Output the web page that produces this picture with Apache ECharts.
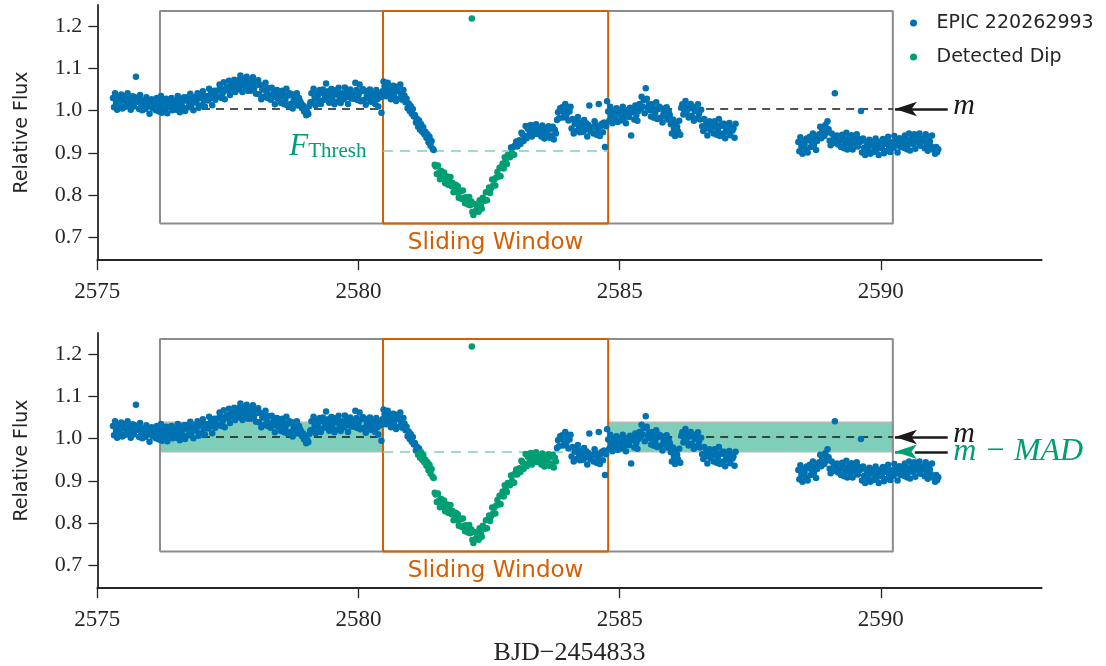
<!DOCTYPE html>
<html>
<head>
<meta charset="utf-8">
<title>EPIC 220262993 dip detection</title>
<script src="https://cdn.jsdelivr.net/npm/echarts@6/dist/echarts.min.js"></script>
<style>
  html, body { margin: 0; padding: 0; background: #ffffff; }
  #chart { width: 1106px; height: 666px; }
</style>
</head>
<body>
<div id="chart"></div>
<script>
// K2 light curve of EPIC 220262993: [BJD - 2454833, relative flux]
const lightCurveA = [
  [2575.30,1.030],[2575.32,1.008],[2575.34,1.041],[2575.36,1.019],[2575.38,1.002],[2575.40,1.033],[2575.42,1.024],[2575.44,1.013],[2575.46,1.038],[2575.48,1.005],
  [2575.50,1.025],[2575.52,1.033],[2575.54,1.009],[2575.56,1.019],[2575.58,1.041],[2575.60,1.014],[2575.62,1.029],[2575.64,1.002],[2575.66,1.023],[2575.68,1.034],
  [2575.70,1.010],[2575.72,1.032],[2575.74,1.080],[2575.76,1.021],[2575.78,1.029],[2575.80,1.004],[2575.82,1.037],[2575.84,1.015],[2575.86,1.001],[2575.88,1.024],
  [2575.90,1.015],[2575.92,1.004],[2575.94,1.032],[2575.96,1.009],[2575.98,1.024],[2576.00,0.993],[2576.02,1.020],[2576.04,1.027],[2576.06,1.006],[2576.08,1.014],
  [2576.10,1.016],[2576.12,1.001],[2576.14,1.030],[2576.16,1.022],[2576.18,0.998],[2576.20,1.009],[2576.22,1.035],[2576.24,0.995],[2576.26,1.019],[2576.28,1.024],
  [2576.30,1.005],[2576.32,1.028],[2576.34,0.994],[2576.36,1.015],[2576.38,1.022],[2576.40,1.008],[2576.42,1.030],[2576.44,1.001],[2576.46,1.019],[2576.48,1.012],
  [2576.50,1.024],[2576.52,1.002],[2576.54,1.035],[2576.56,1.013],[2576.58,0.996],[2576.60,1.027],[2576.62,1.018],[2576.64,1.007],[2576.66,1.032],[2576.68,0.999],
  [2576.70,1.024],[2576.72,1.032],[2576.74,1.008],[2576.76,1.018],[2576.78,1.040],[2576.80,1.013],[2576.82,1.028],[2576.84,1.001],[2576.86,1.022],[2576.88,1.033],
  [2576.90,1.019],[2576.92,1.041],[2576.94,1.007],[2576.96,1.030],[2576.98,1.038],[2577.00,1.013],[2577.02,1.046],[2577.04,1.024],[2577.06,1.010],[2577.08,1.033],
  [2577.10,1.035],[2577.12,1.024],[2577.14,1.052],[2577.16,1.029],[2577.18,1.044],[2577.20,1.013],[2577.22,1.040],[2577.24,1.047],[2577.26,1.026],[2577.28,1.034],
  [2577.30,1.048],[2577.32,1.033],[2577.34,1.062],[2577.36,1.054],[2577.38,1.030],[2577.40,1.041],[2577.42,1.067],[2577.44,1.027],[2577.46,1.051],[2577.48,1.056],
  [2577.50,1.048],[2577.52,1.071],[2577.54,1.037],[2577.56,1.058],[2577.58,1.065],[2577.60,1.051],[2577.62,1.073],[2577.64,1.044],[2577.66,1.062],[2577.68,1.055],
  [2577.70,1.072],[2577.72,1.050],[2577.74,1.083],[2577.76,1.061],[2577.78,1.044],[2577.80,1.075],[2577.82,1.066],[2577.84,1.055],[2577.86,1.080],[2577.88,1.047],
  [2577.90,1.063],[2577.92,1.071],[2577.94,1.047],[2577.96,1.057],[2577.98,1.079],[2578.00,1.052],[2578.02,1.067],[2578.04,1.040],[2578.06,1.061],[2578.08,1.072],
  [2578.10,1.039],[2578.12,1.061],[2578.14,1.027],[2578.16,1.050],[2578.18,1.058],[2578.20,1.033],[2578.22,1.066],[2578.24,1.044],[2578.26,1.030],[2578.28,1.053],
  [2578.30,1.037],[2578.32,1.026],[2578.34,1.054],[2578.36,1.031],[2578.38,1.046],[2578.40,1.015],[2578.42,1.042],[2578.44,1.049],[2578.46,1.028],[2578.48,1.036],
  [2578.50,1.033],[2578.52,1.018],[2578.54,1.047],[2578.56,1.039],[2578.58,1.015],[2578.60,1.026],[2578.62,1.052],[2578.64,1.012],[2578.66,1.036],[2578.68,1.041],
  [2578.70,1.016],[2578.72,1.039],[2578.74,1.005],[2578.76,1.026],[2578.78,1.033],[2578.80,1.019],[2578.82,1.041],[2578.84,1.012],[2578.86,1.030],[2578.88,1.023],
  [2578.90,1.018],[2578.92,1.006],[2578.94,1.012],[2578.96,0.998],[2578.98,1.004],[2579.00,0.989],[2579.02,0.997],[2579.04,0.992],[2579.06,1.011],[2579.08,1.020],
  [2579.10,1.041],[2579.12,1.019],[2579.14,1.052],[2579.16,1.030],[2579.18,1.013],[2579.20,1.044],[2579.22,1.035],[2579.24,1.024],[2579.26,1.049],[2579.28,1.016],
  [2579.30,1.042],[2579.32,1.050],[2579.34,1.026],[2579.36,1.036],[2579.38,1.064],[2579.40,1.031],[2579.42,1.046],[2579.44,1.019],[2579.46,1.040],[2579.48,1.051],
  [2579.50,1.027],[2579.52,1.049],[2579.54,1.015],[2579.56,1.038],[2579.58,1.046],[2579.60,1.021],[2579.62,1.054],[2579.64,1.032],[2579.66,1.018],[2579.68,1.041],
  [2579.70,1.038],[2579.72,1.027],[2579.74,1.055],[2579.76,1.032],[2579.78,1.047],[2579.80,1.016],[2579.82,1.043],[2579.84,1.050],[2579.86,1.029],[2579.88,1.037],
  [2579.90,1.043],[2579.92,1.028],[2579.94,1.066],[2579.96,1.049],[2579.98,1.025],[2580.00,1.036],[2580.02,1.062],[2580.04,1.022],[2580.06,1.046],[2580.08,1.051],
  [2580.10,1.025],[2580.12,1.048],[2580.14,1.014],[2580.16,1.035],[2580.18,1.042],[2580.20,1.028],[2580.22,1.050],[2580.24,1.021],[2580.26,1.039],[2580.28,1.032],
  [2580.30,1.038],[2580.32,1.016],[2580.34,1.049],[2580.36,1.027],[2580.38,1.010],[2580.40,1.041],[2580.42,1.032],[2580.44,0.995],[2580.46,1.046]
];
const lightCurveB = [
  [2580.48,1.069],[2580.50,1.058],[2580.52,1.034],[2580.54,1.044],[2580.56,1.066],[2580.58,1.039],[2580.60,1.054],[2580.62,1.027],[2580.64,1.048],[2580.66,1.059],
  [2580.68,1.035],[2580.70,1.057],[2580.72,1.023],[2580.74,1.046],[2580.76,1.054],[2580.78,1.029],[2580.80,1.062],[2580.82,1.040],[2580.84,1.026],[2580.86,1.049],
  [2580.88,1.036],[2580.90,1.020],[2580.92,1.028],[2580.94,1.006],[2580.96,1.017],[2580.98,0.999],[2581.00,1.011],[2581.02,0.993],[2581.04,1.004],[2581.06,0.986],
  [2581.08,0.990],[2581.10,0.972],[2581.12,0.981],[2581.14,0.962],[2581.16,0.977],[2581.18,0.955],[2581.20,0.968],[2581.22,0.950],[2581.24,0.961],[2581.26,0.944],
  [2581.28,0.950],[2581.30,0.936],[2581.32,0.944],[2581.34,0.925],[2581.36,0.938],[2581.38,0.917],[2581.40,0.928],[2581.42,0.910],[2581.44,0.907],[2581.46,0.872],
  [2581.48,0.868],[2581.50,0.850],[2581.52,0.870],[2581.54,0.853],[2581.56,0.838],[2581.58,0.858],[2581.60,0.848],[2581.62,0.839],[2581.64,0.854],[2581.66,0.828],
  [2581.68,0.842],[2581.70,0.844],[2581.72,0.825],[2581.74,0.829],[2581.76,0.843],[2581.78,0.821],[2581.80,0.829],[2581.82,0.807],[2581.84,0.820],[2581.86,0.825],
  [2581.88,0.807],[2581.90,0.821],[2581.92,0.794],[2581.94,0.808],[2581.96,0.810],[2581.98,0.791],[2582.00,0.811],[2582.02,0.794],[2582.04,0.781],[2582.06,0.795],
  [2582.08,0.789],[2582.10,0.778],[2582.12,0.796],[2582.14,0.776],[2582.16,0.785],[2582.18,0.760],[2582.20,0.753],[2582.22,0.779],[2582.24,0.762],[2582.26,0.765],
  [2582.28,0.774],[2582.30,0.761],[2582.32,0.788],[2582.34,0.776],[2582.36,0.768],[2582.38,0.794],[2582.40,0.790],[2582.42,0.787],[2582.44,0.807],[2582.46,0.788],
  [2582.48,0.808],[2582.50,0.818],[2582.52,0.805],[2582.54,0.817],[2582.56,0.837],[2582.58,0.823],[2582.60,0.837],[2582.62,0.823],[2582.64,0.842],[2582.66,0.855],
  [2582.68,0.844],[2582.70,0.865],[2582.72,0.845],[2582.74,0.866],[2582.76,0.875],[2582.78,0.863],[2582.80,0.890],[2582.82,0.880],[2582.84,0.874],[2582.86,0.895],
  [2582.88,0.894],[2582.90,0.890],[2582.92,0.913],[2582.94,0.900],[2582.96,0.914],[2582.98,0.896],[2583.00,0.918],[2583.02,0.927],[2583.04,0.915],[2583.06,0.925],
  [2583.08,0.930],[2583.10,0.921],[2583.12,0.948],[2583.14,0.944],[2583.16,0.928],[2583.18,0.940],[2583.20,0.964],[2583.22,0.935],[2583.24,0.957],[2583.26,0.964],
  [2583.28,0.948],[2583.30,0.966],[2583.32,0.939],[2583.34,0.956],[2583.36,0.961],[2583.38,0.950],[2583.40,0.968],[2583.42,0.945],[2583.44,0.959],[2583.46,0.953],
  [2583.48,0.956],[2583.50,0.939],[2583.52,0.965],[2583.54,0.948],[2583.56,0.934],[2583.58,0.959],[2583.60,0.952],[2583.62,0.943],[2583.64,0.963],[2583.66,0.936],
  [2583.68,0.957],[2583.70,0.941],[2583.72,0.962],[2583.74,0.932],[2583.76,0.955],[2583.78,0.946],[2583.80,0.978],[2583.82,0.996],[2583.84,0.982],[2583.86,1.006],
  [2583.88,1.000],[2583.90,1.008],[2583.92,0.984],[2583.94,0.994],[2583.96,1.016],[2583.98,0.989],[2584.00,1.004],[2584.02,0.977],[2584.04,0.998],[2584.06,1.009],
  [2584.08,0.958],[2584.10,0.980],[2584.12,0.946],[2584.14,0.969],[2584.16,0.977],[2584.18,0.952],[2584.20,0.985],[2584.22,0.963],[2584.24,0.949],[2584.26,0.972],
  [2584.28,0.961],[2584.30,0.950],[2584.32,0.978],[2584.34,0.955],[2584.36,0.970],[2584.38,0.939],[2584.40,0.966],[2584.42,1.012],[2584.44,0.952],[2584.46,0.960],
  [2584.48,0.961],[2584.50,0.946],[2584.52,0.975],[2584.54,0.967],[2584.56,0.943],[2584.58,0.954],[2584.60,1.016],[2584.62,0.940],[2584.64,0.964],[2584.66,0.969],
  [2584.68,0.949],[2584.70,0.972],[2584.72,0.914],[2584.74,0.963],[2584.76,1.022]
];
const lightCurveC = [
  [2584.78,0.998],[2584.80,0.976],[2584.82,1.009],[2584.84,0.987],[2584.86,0.970],[2584.88,1.001],[2584.90,0.992],[2584.92,0.981],[2584.94,1.006],[2584.96,0.973],
  [2584.98,0.993],[2585.00,1.001],[2585.02,0.977],[2585.04,0.987],[2585.06,1.009],[2585.08,0.982],[2585.10,0.997],[2585.12,0.970],[2585.14,0.991],[2585.16,1.002],
  [2585.18,0.985],[2585.20,1.007],[2585.22,0.941],[2585.24,0.996],[2585.26,1.004],[2585.28,0.979],[2585.30,1.012],[2585.32,0.990],[2585.34,0.976],[2585.36,0.999],
  [2585.38,1.016],[2585.40,1.005],[2585.42,1.033],[2585.44,1.010],[2585.46,1.025],[2585.48,0.994],[2585.50,1.053],[2585.52,1.028],[2585.54,1.007],[2585.56,1.015],
  [2585.58,1.001],[2585.60,0.986],[2585.62,1.015],[2585.64,1.007],[2585.66,0.983],[2585.68,0.994],[2585.70,1.020],[2585.72,0.980],[2585.74,1.004],[2585.76,1.009],
  [2585.78,0.983],[2585.80,1.006],[2585.82,0.972],[2585.84,0.993],[2585.86,1.000],[2585.88,0.986],[2585.90,1.008],[2585.92,0.979],[2585.94,0.997],[2585.96,0.990],
  [2585.98,0.968],[2586.00,0.946],[2586.02,0.979],[2586.04,0.957],[2586.06,0.940],[2586.08,0.971],[2586.10,0.962],[2586.12,0.951],[2586.14,0.976],[2586.16,0.943],
  [2586.18,1.007],[2586.20,1.015],[2586.22,0.991],[2586.24,1.001],[2586.26,1.023],[2586.28,0.996],[2586.30,1.011],[2586.32,0.984],[2586.34,1.005],[2586.36,1.016],
  [2586.38,0.988],[2586.40,1.010],[2586.42,0.976],[2586.44,0.999],[2586.46,1.007],[2586.48,0.982],[2586.50,1.015],[2586.52,0.993],[2586.54,0.979],[2586.56,1.002],
  [2586.58,0.963],[2586.60,0.952],[2586.62,0.980],[2586.64,0.957],[2586.66,0.972],[2586.68,0.941],[2586.70,0.968],[2586.72,0.975],[2586.74,0.954],[2586.76,0.962],
  [2586.78,0.961],[2586.80,0.946],[2586.82,0.975],[2586.84,0.967],[2586.86,0.943],[2586.88,0.954],[2586.90,0.980],[2586.92,0.940],[2586.94,0.964],[2586.96,0.969],
  [2586.98,0.946],[2587.00,0.969],[2587.02,0.935],[2587.04,0.956],[2587.06,0.963],[2587.08,0.949],[2587.10,0.971],[2587.12,0.942],[2587.14,0.960],[2587.16,0.953],
  [2587.18,0.958],[2587.20,0.936],[2587.22,0.969]
];
const lightCurveD = [
  [2588.42,0.926],[2588.44,0.904],[2588.46,0.937],[2588.48,0.915],[2588.50,0.898],[2588.52,0.929],[2588.54,0.920],[2588.56,0.909],[2588.58,0.934],[2588.60,0.901],
  [2588.62,0.930],[2588.64,0.938],[2588.66,0.914],[2588.68,0.924],[2588.70,0.946],[2588.72,0.919],[2588.74,0.934],[2588.76,0.907],[2588.78,0.928],[2588.80,0.939],
  [2588.82,0.944],[2588.84,0.962],[2588.86,0.935],[2588.88,0.953],[2588.90,0.960],[2588.92,0.940],[2588.94,0.966],[2588.96,0.948],[2588.98,0.975],[2589.00,0.956],
  [2589.02,0.929],[2589.04,0.918],[2589.06,0.946],[2589.08,0.923],[2589.10,0.938],[2589.12,1.041],[2589.14,0.934],[2589.16,0.941],[2589.18,0.920],[2589.20,0.928],
  [2589.22,0.929],[2589.24,0.914],[2589.26,0.943],[2589.28,0.935],[2589.30,0.911],[2589.32,0.922],[2589.34,0.948],[2589.36,0.908],[2589.38,0.932],[2589.40,0.937],
  [2589.42,0.919],[2589.44,0.942],[2589.46,0.908],[2589.48,0.929],[2589.50,0.936],[2589.52,0.922],[2589.54,0.944],[2589.56,0.915],[2589.58,0.933],[2589.60,0.926],
  [2589.62,0.999],[2589.64,0.901],[2589.66,0.934],[2589.68,0.912],[2589.70,0.895],[2589.72,0.926],[2589.74,0.917],[2589.76,0.906],[2589.78,0.931],[2589.80,0.898],
  [2589.82,0.918],[2589.84,0.926],[2589.86,0.902],[2589.88,0.912],[2589.90,0.934],[2589.92,0.907],[2589.94,0.922],[2589.96,0.895],[2589.98,0.916],[2590.00,0.927],
  [2590.02,0.911],[2590.04,0.933],[2590.06,0.899],[2590.08,0.922],[2590.10,0.930],[2590.12,0.905],[2590.14,0.938],[2590.16,0.916],[2590.18,0.902],[2590.20,0.925],
  [2590.22,0.923],[2590.24,0.912],[2590.26,0.940],[2590.28,0.917],[2590.30,0.932],[2590.32,0.901],[2590.34,0.928],[2590.36,0.935],[2590.38,0.914],[2590.40,0.922],
  [2590.42,0.927],[2590.44,0.912],[2590.46,0.941],[2590.48,0.933],[2590.50,0.909],[2590.52,0.920],[2590.54,0.946],[2590.56,0.906],[2590.58,0.930],[2590.60,0.935],
  [2590.62,0.921],[2590.64,0.944],[2590.66,0.910],[2590.68,0.931],[2590.70,0.938],[2590.72,0.924],[2590.74,0.946],[2590.76,0.917],[2590.78,0.935],[2590.80,0.928],
  [2590.82,0.933],[2590.84,0.911],[2590.86,0.944],[2590.88,0.922],[2590.90,0.905],[2590.92,0.936],[2590.94,0.927],[2590.96,0.916],[2590.98,0.941],[2591.00,0.908],
  [2591.02,0.911],[2591.04,0.898],[2591.06,0.914],[2591.08,0.902],[2591.10,0.909]
];
// Outlier that the detector flags together with the dip
const flaggedPoints = [[2582.17, 1.218]];

const xTicks = [2575, 2580, 2585, 2590];
const yTicks = [0.7, 0.8, 0.9, 1.0, 1.1, 1.2];

// Detection parameters
const medianFlux = 1.004;          // m
const madFlux = 0.035;             // MAD
const fThresh = 0.905;             // F_Thresh
const searchBox = [2576.20, 2590.23, 0.733, 1.236];   // t0, t1, fLow, fHigh
const slidingWindow = [2580.47, 2584.78];
const lowerDipEnd = 2583.80;
const arrowTail = 2591.28;
const arrowHead = 2590.27;

const COLORS = { blue: '#0072b2', green: '#009e73', orange: '#d55e00', ink: '#262626' };
const SERIF = 'Liberation Serif';
const SANS = 'DejaVu Sans';

const allPoints = lightCurveA.concat(lightCurveB, lightCurveC, lightCurveD);

function rectPath(t0, t1, f0, f1) {
  return [[t0, f0], [t0, f1], [t1, f1], [t1, f0], [t0, f0]];
}

function labelHolder(p, point, label) {
  return {
    type: 'scatter', xAxisIndex: p, yAxisIndex: p, silent: true, z: 20,
    symbolSize: 1, itemStyle: { color: 'rgba(0,0,0,0)', opacity: 1 },
    data: [point], label: Object.assign({ show: true }, label)
  };
}

function panelSeries(p) {
  const thr = p === 0 ? fThresh : medianFlux - madFlux;
  const dipEnd = p === 0 ? slidingWindow[1] : lowerDipEnd;
  const inDip = d => d[0] >= slidingWindow[0] && d[0] <= dipEnd && d[1] < thr;
  const base = allPoints.filter(d => !inDip(d));
  const dip = allPoints.filter(inDip).concat(flaggedPoints);
  const [b0, b1, fLo, fHi] = searchBox;
  const [w0, w1] = slidingWindow;
  const list = [];

  if (p === 1) {
    list.push({
      type: 'line', xAxisIndex: p, yAxisIndex: p, silent: true, z: 1,
      data: [[b0, medianFlux]], symbol: 'none', lineStyle: { width: 0 },
      markArea: {
        silent: true,
        itemStyle: { color: 'rgba(0,158,115,0.5)', borderColor: '#b8b8b8', borderWidth: 1.5 },
        data: [
          [{ coord: [b0, medianFlux - madFlux] }, { coord: [w0, medianFlux + madFlux] }],
          [{ coord: [w1, medianFlux - madFlux] }, { coord: [b1, medianFlux + madFlux] }]
        ]
      }
    });
  }

  list.push({
    type: 'line', xAxisIndex: p, yAxisIndex: p, silent: true, z: 2,
    data: rectPath(b0, b1, fLo, fHi), symbol: 'none',
    lineStyle: { color: '#8c8c8c', width: 2 }
  });
  list.push({
    type: 'line', xAxisIndex: p, yAxisIndex: p, silent: true, z: 3,
    data: rectPath(w0, w1, fLo, fHi), symbol: 'none',
    lineStyle: { color: COLORS.orange, width: 2 }
  });

  const dashBlack = { color: '#1a1a1a', width: 1.6, type: [8, 6] };
  const dashGreen = { color: '#80ceb9', width: 1.6, type: [10, 7] };
  const arrowBlack = { color: '#1a1a1a', width: 2.5, type: 'solid' };
  const guides = [
    [{ coord: [b0, medianFlux], lineStyle: dashBlack }, { coord: [w0, medianFlux] }],
    [{ coord: [w1, medianFlux], lineStyle: dashBlack }, { coord: [b1, medianFlux] }],
    [{ coord: [w0, thr], lineStyle: dashGreen }, { coord: [w1, thr] }],
    [{ coord: [arrowTail, medianFlux], lineStyle: arrowBlack },
     { coord: [arrowHead, medianFlux], symbol: 'arrow', symbolSize: [11, 22] }]
  ];
  if (p === 1) {
    guides.push(
      [{ coord: [arrowHead + 0.3, thr], lineStyle: { color: COLORS.green, width: 2.5, type: 'solid' } },
       { coord: [arrowHead, thr], symbol: 'arrow', symbolSize: [11, 22] }],
      [{ coord: [arrowTail, thr], lineStyle: arrowBlack }, { coord: [arrowHead + 0.38, thr] }]
    );
  }
  list.push({
    type: 'line', xAxisIndex: p, yAxisIndex: p, silent: true, z: 4,
    data: [[b0, medianFlux]], symbol: 'none', lineStyle: { width: 0 },
    markLine: {
      silent: true, animation: false, symbol: ['none', 'none'],
      label: { show: false }, emphasis: { disabled: true },
      data: guides
    }
  });

  // Annotations
  list.push(labelHolder(p, [(w0 + w1) / 2, fLo], {
    position: 'bottom', distance: 8, formatter: 'Sliding Window',
    color: COLORS.orange, fontFamily: SANS, fontSize: 23
  }));
  list.push(labelHolder(p, [arrowTail, medianFlux], {
    position: 'right', distance: 5, offset: [0, -3], formatter: 'm',
    color: '#1a1a1a', fontFamily: SERIF, fontStyle: 'italic', fontSize: 30
  }));
  if (p === 0) {
    list.push(labelHolder(p, [w0, fThresh], {
      position: 'left', distance: 16, offset: [0, -4],
      formatter: '{f|F}{s|Thresh}',
      rich: {
        f: { fontFamily: SERIF, fontStyle: 'italic', fontSize: 31, color: COLORS.green, verticalAlign: 'bottom' },
        s: { fontFamily: SERIF, fontSize: 21, color: COLORS.green, verticalAlign: 'bottom' }
      }
    }));
  } else {
    list.push(labelHolder(p, [arrowTail, thr], {
      position: 'right', distance: 5, formatter: 'm \u2212 MAD',
      color: COLORS.green, fontFamily: SERIF, fontStyle: 'italic', fontSize: 32
    }));
  }

  list.push({
    type: 'scatter', name: 'EPIC 220262993', xAxisIndex: p, yAxisIndex: p, z: 10,
    data: base, symbolSize: 6.5, itemStyle: { color: COLORS.blue, opacity: 1 }, silent: true
  });
  list.push({
    type: 'scatter', name: 'Detected Dip', xAxisIndex: p, yAxisIndex: p, z: 11,
    data: dip, symbolSize: 6.5, itemStyle: { color: COLORS.green, opacity: 1 }, silent: true
  });
  return list;
}

function xAxisFor(p) {
  return {
    type: 'value', gridIndex: p, min: 2575, max: 2593.08,
    axisLine: { show: true, lineStyle: { color: COLORS.ink, width: 1.8 } },
    axisTick: { show: true, length: 10, customValues: xTicks, lineStyle: { color: COLORS.ink, width: 1.3 } },
    axisLabel: {
      customValues: xTicks, margin: 20, fontFamily: SERIF, fontSize: 23, color: COLORS.ink,
      formatter: v => String(v)
    },
    splitLine: { show: false },
    name: p === 1 ? 'BJD\u22122454833' : '',
    nameLocation: 'middle', nameGap: 52,
    nameTextStyle: { fontFamily: SERIF, fontSize: 26, color: COLORS.ink }
  };
}

function yAxisFor(p) {
  return {
    type: 'value', gridIndex: p, min: 0.6467, max: 1.25,
    axisLine: { show: true, lineStyle: { color: COLORS.ink, width: 1.8 } },
    axisTick: { show: true, length: 9, customValues: yTicks, lineStyle: { color: COLORS.ink, width: 1.3 } },
    axisLabel: {
      customValues: yTicks, margin: 15, fontFamily: SERIF, fontSize: 22, color: COLORS.ink,
      formatter: v => v.toFixed(1)
    },
    splitLine: { show: false },
    name: 'Relative Flux', nameLocation: 'middle', nameGap: 66,
    nameTextStyle: { fontFamily: SANS, fontSize: 19, color: COLORS.ink }
  };
}

const chart = echarts.init(document.getElementById('chart'), null, { renderer: 'canvas' });
chart.setOption({
  animation: false,
  backgroundColor: '#ffffff',
  grid: [
    { left: 97.3, top: 5, width: 944.4, height: 255, containLabel: false, outerBoundsMode: 'none' },
    { left: 97.3, top: 333, width: 944.4, height: 255, containLabel: false, outerBoundsMode: 'none' }
  ],
  xAxis: [xAxisFor(0), xAxisFor(1)],
  yAxis: [yAxisFor(0), yAxisFor(1)],
  legend: {
    data: ['EPIC 220262993', 'Detected Dip'],
    orient: 'vertical', left: 905, top: 6,
    icon: 'circle', itemWidth: 36, itemHeight: 7, itemGap: 10,
    selectedMode: false,
    textStyle: { fontFamily: SANS, fontSize: 19, color: COLORS.ink, lineHeight: 24 }
  },
  series: panelSeries(0).concat(panelSeries(1))
});
</script>
</body>
</html>
